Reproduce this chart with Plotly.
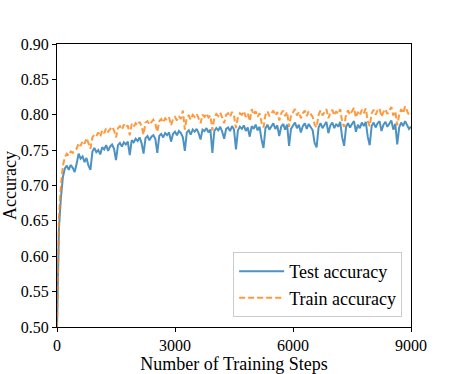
import plotly.graph_objects as go

steps = list(range(0, 9001, 50))

test_accuracy = [
    0.500, 0.640, 0.683, 0.712, 0.724, 0.728, 0.722, 0.729, 0.725, 0.719,
    0.731, 0.745, 0.738, 0.741, 0.733, 0.739, 0.728, 0.722, 0.748, 0.753,
    0.747, 0.750, 0.744, 0.754, 0.751, 0.757, 0.749, 0.755, 0.758, 0.752,
    0.736, 0.757, 0.760, 0.755, 0.761, 0.758, 0.762, 0.743, 0.764, 0.761,
    0.766, 0.763, 0.768, 0.760, 0.745, 0.767, 0.770, 0.764, 0.769, 0.771,
    0.766, 0.746, 0.770, 0.773, 0.768, 0.774, 0.771, 0.775, 0.762, 0.773,
    0.776, 0.771, 0.777, 0.774, 0.768, 0.749, 0.775, 0.778, 0.772, 0.779,
    0.776, 0.780, 0.774, 0.765, 0.779, 0.777, 0.781, 0.775, 0.779, 0.746,
    0.777, 0.781, 0.778, 0.783, 0.776, 0.766, 0.780, 0.782, 0.777, 0.784,
    0.779, 0.751, 0.778, 0.783, 0.780, 0.785, 0.777, 0.782, 0.769, 0.784,
    0.780, 0.786, 0.778, 0.783, 0.765, 0.753, 0.781, 0.786, 0.779, 0.784,
    0.788, 0.780, 0.785, 0.770, 0.783, 0.787, 0.779, 0.786, 0.756, 0.780,
    0.785, 0.789, 0.781, 0.786, 0.775, 0.784, 0.788, 0.780, 0.787, 0.783,
    0.778, 0.760, 0.754, 0.782, 0.788, 0.781, 0.786, 0.790, 0.774, 0.785,
    0.789, 0.781, 0.787, 0.783, 0.790, 0.768, 0.756, 0.783, 0.788, 0.782,
    0.787, 0.791, 0.776, 0.786, 0.781, 0.789, 0.784, 0.790, 0.769, 0.757,
    0.784, 0.789, 0.782, 0.788, 0.791, 0.777, 0.786, 0.790, 0.783, 0.788,
    0.792, 0.779, 0.787, 0.758, 0.782, 0.789, 0.784, 0.791, 0.785, 0.780,
    0.783,
]

train_accuracy = [
    0.500, 0.655, 0.700, 0.728, 0.740, 0.745, 0.742, 0.748, 0.746, 0.750,
    0.752, 0.760, 0.756, 0.763, 0.759, 0.767, 0.760, 0.752, 0.768, 0.772,
    0.770, 0.775, 0.769, 0.778, 0.774, 0.781, 0.776, 0.779, 0.783, 0.778,
    0.768, 0.781, 0.784, 0.779, 0.786, 0.782, 0.785, 0.771, 0.787, 0.783,
    0.788, 0.785, 0.790, 0.784, 0.772, 0.789, 0.791, 0.786, 0.790, 0.793,
    0.787, 0.776, 0.791, 0.794, 0.789, 0.795, 0.792, 0.796, 0.785, 0.794,
    0.797, 0.792, 0.798, 0.794, 0.806, 0.779, 0.796, 0.799, 0.793, 0.800,
    0.797, 0.801, 0.795, 0.788, 0.800, 0.797, 0.802, 0.796, 0.799, 0.778,
    0.796, 0.801, 0.798, 0.803, 0.796, 0.788, 0.800, 0.802, 0.797, 0.804,
    0.799, 0.781, 0.797, 0.802, 0.800, 0.805, 0.797, 0.802, 0.791, 0.808,
    0.800, 0.805, 0.797, 0.802, 0.789, 0.782, 0.800, 0.805, 0.798, 0.803,
    0.806, 0.799, 0.804, 0.792, 0.802, 0.806, 0.798, 0.804, 0.783, 0.799,
    0.803, 0.808, 0.799, 0.804, 0.795, 0.802, 0.806, 0.798, 0.805, 0.801,
    0.797, 0.786, 0.782, 0.800, 0.806, 0.799, 0.804, 0.808, 0.795, 0.803,
    0.807, 0.799, 0.805, 0.801, 0.808, 0.790, 0.783, 0.801, 0.806, 0.800,
    0.805, 0.810, 0.796, 0.804, 0.799, 0.807, 0.802, 0.809, 0.791, 0.784,
    0.802, 0.807, 0.800, 0.806, 0.809, 0.797, 0.804, 0.808, 0.801, 0.806,
    0.811, 0.799, 0.805, 0.785, 0.800, 0.808, 0.802, 0.812, 0.804, 0.799,
    0.801,
]

x_ticks = [0, 3000, 6000, 9000]
y_ticks = [0.50, 0.55, 0.60, 0.65, 0.70, 0.75, 0.80, 0.85, 0.90]

FONT = "Liberation Serif, serif"

fig = go.Figure()
fig.add_trace(go.Scatter(
    x=steps, y=test_accuracy, mode="lines", name="Test accuracy",
    line=dict(color="rgba(31,119,180,0.8)", width=2),
))
fig.add_trace(go.Scatter(
    x=steps, y=train_accuracy, mode="lines", name="Train accuracy",
    line=dict(color="rgba(255,127,14,0.8)", width=2, dash="6px,3px"),
))

axis_common = dict(
    showline=True, linecolor="black", linewidth=1, mirror=True,
    ticks="outside", ticklen=4, tickcolor="black", tickwidth=1,
    showgrid=False, zeroline=False, automargin=False,
    tickfont=dict(family=FONT, size=16, color="black"),
)

fig.update_xaxes(
    range=[0, 9000], tickvals=x_ticks,
    title=dict(text="Number of Training Steps", font=dict(family=FONT, size=18, color="black"), standoff=0),
    **axis_common,
)
fig.update_yaxes(
    range=[0.50, 0.90], tickvals=y_ticks, tickformat=".2f",
    title=dict(text="Accuracy", font=dict(family=FONT, size=18, color="black"), standoff=2),
    **axis_common,
)

fig.update_layout(
    width=457, height=374,
    margin=dict(l=57, r=46, t=44, b=47),
    paper_bgcolor="white", plot_bgcolor="white",
    font=dict(family=FONT, size=16, color="black"),
    legend=dict(
        x=0.975, y=0.035, xanchor="right", yanchor="bottom",
        bgcolor="rgba(255,255,255,0.8)", bordercolor="#cccccc", borderwidth=1,
        font=dict(family=FONT, size=18, color="black"),
        itemwidth=45,
    ),
)

fig.write_html(
    "out.html",
    config={"displayModeBar": False},
    post_script="document.body.style.margin='0';document.body.style.overflow='hidden';",
)
